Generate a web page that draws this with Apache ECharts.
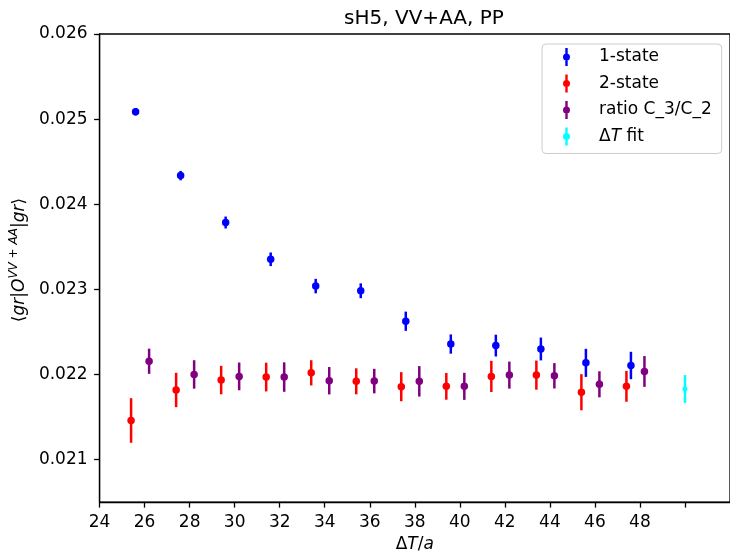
<!DOCTYPE html>
<html>
<head>
    <meta charset="utf-8">
    <title>sH5, VV+AA, PP</title>
    <script src="https://cdn.jsdelivr.net/npm/echarts@6/dist/echarts.min.js"></script>
    <style>
        html, body { margin: 0; padding: 0; background: #fff; }
        #main { width: 730px; height: 558px; }
    </style>
</head>
<body>
    <div id="main"></div>
    <script type="text/javascript">
        // 1-state
        var xOne = [25.6, 27.6, 29.6, 31.6, 33.6, 35.6, 37.6, 39.6, 41.6, 43.6, 45.6, 47.6];
        var yOne = [0.025086, 0.024336, 0.023785, 0.023353, 0.023038, 0.022983, 0.022625, 0.022357, 0.022339, 0.022299, 0.022136, 0.022105];
        var eOne = [0.000043, 0.000055, 0.00007, 0.00008, 0.000085, 0.000087, 0.000113, 0.000113, 0.000128, 0.000134, 0.000165, 0.000161];
        // 2-state
        var xTwo = [25.4, 27.4, 29.4, 31.4, 33.4, 35.4, 37.4, 39.4, 41.4, 43.4, 45.4, 47.4];
        var yTwo = [0.021459, 0.021817, 0.021934, 0.021969, 0.022019, 0.021919, 0.021856, 0.021860, 0.021977, 0.021992, 0.021791, 0.021860];
        var eTwo = [0.000262, 0.000202, 0.000167, 0.000169, 0.000148, 0.000153, 0.000171, 0.000157, 0.000183, 0.000171, 0.000212, 0.000181];
        // ratio C_3/C_2
        var xRatio = [26.2, 28.2, 30.2, 32.2, 34.2, 36.2, 38.2, 40.2, 42.2, 44.2, 46.2, 48.2];
        var yRatio = [0.022155, 0.022000, 0.021977, 0.021969, 0.021926, 0.021922, 0.021919, 0.021860, 0.021992, 0.021984, 0.021884, 0.022035];
        var eRatio = [0.000148, 0.000167, 0.000163, 0.000173, 0.000161, 0.000144, 0.000179, 0.000159, 0.000159, 0.000149, 0.000153, 0.000181];
        // Delta T fit
        var xFit = [50];
        var yFit = [0.021829];
        var eFit = [0.000163];

        var names = ['1-state', '2-state', 'ratio C_3/C_2', 'fit'];
        var colors = ['#0000ff', '#ff0000', '#800080', '#00ffff'];

        var xTicks = [24, 26, 28, 30, 32, 34, 36, 38, 40, 42, 44, 46, 48, 50];
        var xLabels = [24, 26, 28, 30, 32, 34, 36, 38, 40, 42, 44, 46, 48];
        var yTicks = [0.021, 0.022, 0.023, 0.024, 0.025, 0.026];

        var font = 'DejaVu Sans';
        // errorbar-like legend mark: bar pieces above/below a dot, no overlap
        var legendIcon = 'path://M-1.2,-9L1.2,-9L1.2,-2.5L-1.2,-2.5Z M-1.2,2.5L1.2,2.5L1.2,9L-1.2,9Z M-3.5,0A3.5,3.5 0 1,1 3.5,0A3.5,3.5 0 1,1 -3.5,0Z';

        function points(xs, ys) {
            return xs.map(function(x, i) { return [x, ys[i]]; });
        }
        function bars(xs, ys, es) {
            return xs.map(function(x, i) { return [x, ys[i] - es[i], ys[i] + es[i]]; });
        }
        function errorSeries(name, color, data) {
            return {
                name: name,
                type: 'custom',
                data: data,
                encode: { x: 0, y: [1, 2] },
                renderItem: function(params, api) {
                    var a = api.coord([api.value(0), api.value(1)]);
                    var b = api.coord([api.value(0), api.value(2)]);
                    return {
                        type: 'line',
                        shape: { x1: a[0], y1: a[1], x2: b[0], y2: b[1] },
                        style: { stroke: color, lineWidth: 2.5 }
                    };
                },
                z: 2
            };
        }
        function dotSeries(name, color, data, size) {
            return {
                name: name,
                type: 'scatter',
                data: data,
                symbol: 'circle',
                symbolSize: size,
                itemStyle: { color: color, opacity: 1 },
                z: 3
            };
        }

        var sets = [
            [xOne, yOne, eOne, 7.5],
            [xTwo, yTwo, eTwo, 7.5],
            [xRatio, yRatio, eRatio, 7.5],
            [xFit, yFit, eFit, 5]
        ];
        var series = [];
        sets.forEach(function(s, i) {
            series.push(errorSeries(names[i], colors[i], bars(s[0], s[1], s[2])));
            series.push(dotSeries(names[i], colors[i], points(s[0], s[1]), s[3]));
        });

        var chart = echarts.init(document.getElementById('main'));
        var option = {
            animation: false,
            title: {
                text: 'sH5, VV+AA, PP',
                left: 419,
                textAlign: 'center',
                top: 4,
                textStyle: { fontFamily: font, fontSize: 20, fontWeight: 'normal', color: '#000' }
            },
            legend: {
                orient: 'vertical',
                left: 542,
                top: 44,
                padding: [4, 10, 8, 21],
                itemGap: 8.5,
                itemWidth: 7,
                itemHeight: 18,
                borderColor: '#cccccc',
                borderWidth: 1,
                borderRadius: 4,
                backgroundColor: '#fff',
                selectedMode: false,
                formatter: function(n) {
                    return n === 'fit' ? '{n|Δ}{i|T}{n| fit}' : n;
                },
                textStyle: {
                    fontFamily: font, fontSize: 17, color: '#000', lineHeight: 18,
                    padding: [0, 0, 0, 24],
                    rich: {
                        n: { fontFamily: font, fontSize: 17, color: '#000' },
                        i: { fontFamily: font, fontSize: 17, fontStyle: 'italic', color: '#000' }
                    }
                },
                data: names.map(function(n, i) {
                    return { name: n, icon: legendIcon, itemStyle: { color: colors[i], borderWidth: 0 } };
                })
            },
            grid: {
                left: 99,
                top: 34,
                right: -3,
                bottom: 52,
                show: true,
                borderColor: '#000',
                borderWidth: 1.3,
                backgroundColor: 'transparent'
            },
            xAxis: {
                type: 'value',
                min: 24,
                max: 52,
                name: '{n|Δ}{i|T}{n|/}{i|a}',
                nameLocation: 'middle',
                nameGap: 33,
                nameTextStyle: {
                    rich: {
                        n: { fontFamily: font, fontSize: 17, color: '#000' },
                        i: { fontFamily: font, fontSize: 17, fontStyle: 'italic', color: '#000' }
                    }
                },
                splitLine: { show: false },
                axisLine: { lineStyle: { color: '#000', width: 1.3 } },
                axisTick: { customValues: xTicks, length: 5.5, lineStyle: { color: '#000', width: 1.3 } },
                axisLabel: {
                    customValues: xLabels,
                    margin: 12,
                    fontFamily: font, fontSize: 17, color: '#000'
                }
            },
            yAxis: {
                type: 'value',
                min: 0.0205,
                max: 0.026,
                name: '{n|⟨}{i|gr}{n||}{i|O}{s|VV + AA}{n||}{i|gr}{n|⟩}',
                nameLocation: 'middle',
                nameRotate: 90,
                nameGap: 70,
                nameTextStyle: {
                    padding: [0, 0, 0, 16],
                    rich: {
                        n: { fontFamily: font, fontSize: 17, color: '#000', verticalAlign: 'bottom' },
                        i: { fontFamily: font, fontSize: 17, fontStyle: 'italic', color: '#000', verticalAlign: 'bottom' },
                        s: { fontFamily: font, fontSize: 12, fontStyle: 'italic', color: '#000', verticalAlign: 'bottom', padding: [0, 0, 8, 0] }
                    }
                },
                splitLine: { show: false },
                axisLine: { show: true, lineStyle: { color: '#000', width: 1.3 } },
                axisTick: { show: true, customValues: yTicks, length: 5.5, lineStyle: { color: '#000', width: 1.3 } },
                axisLabel: {
                    customValues: yTicks,
                    margin: 12,
                    fontFamily: font, fontSize: 17, color: '#000',
                    formatter: function(v) { return v.toFixed(3); }
                }
            },
            series: series
        };
        chart.setOption(option);
    </script>
</body>
</html>
